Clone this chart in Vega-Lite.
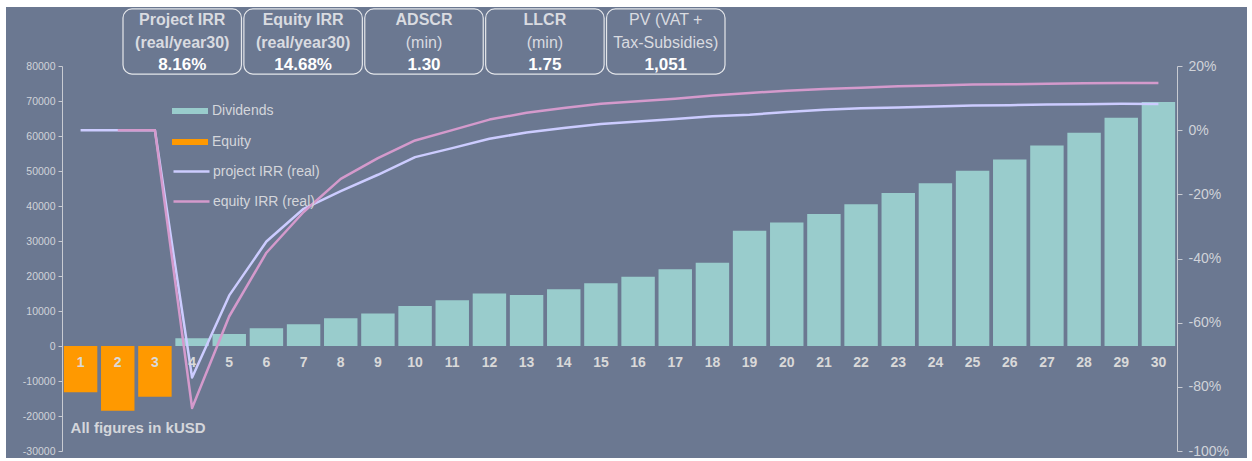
{
  "$schema": "https://vega.github.io/schema/vega-lite/v6.json",
  "width": 1241,
  "height": 451,
  "autosize": {"type": "none"},
  "padding": {"left": 6, "top": 7, "right": 5, "bottom": 3},
  "background": "white",
  "config": {
    "view": {"fill": "#6b7891", "stroke": null},
    "font": "Liberation Sans",
    "locale": {"number": {"decimal": ".", "thousands": ",", "grouping": [3], "currency": ["$", ""], "minus": "-"}},
    "axis": {"grid": false, "labelFont": "Liberation Sans", "domainColor": "#c8cbd2", "tickColor": "#c8cbd2", "labelColor": "#d0d3d9", "title": null}
  },
  "datasets": {
    "flows": [
      {"year": 1, "kusd": -13200, "series": "Equity"},
      {"year": 2, "kusd": -18500, "series": "Equity"},
      {"year": 3, "kusd": -14500, "series": "Equity"},
      {"year": 4, "kusd": 2200, "series": "Dividends"},
      {"year": 5, "kusd": 3400, "series": "Dividends"},
      {"year": 6, "kusd": 5100, "series": "Dividends"},
      {"year": 7, "kusd": 6200, "series": "Dividends"},
      {"year": 8, "kusd": 7900, "series": "Dividends"},
      {"year": 9, "kusd": 9300, "series": "Dividends"},
      {"year": 10, "kusd": 11400, "series": "Dividends"},
      {"year": 11, "kusd": 13100, "series": "Dividends"},
      {"year": 12, "kusd": 15000, "series": "Dividends"},
      {"year": 13, "kusd": 14600, "series": "Dividends"},
      {"year": 14, "kusd": 16200, "series": "Dividends"},
      {"year": 15, "kusd": 17900, "series": "Dividends"},
      {"year": 16, "kusd": 19800, "series": "Dividends"},
      {"year": 17, "kusd": 21900, "series": "Dividends"},
      {"year": 18, "kusd": 23800, "series": "Dividends"},
      {"year": 19, "kusd": 32900, "series": "Dividends"},
      {"year": 20, "kusd": 35300, "series": "Dividends"},
      {"year": 21, "kusd": 37700, "series": "Dividends"},
      {"year": 22, "kusd": 40500, "series": "Dividends"},
      {"year": 23, "kusd": 43700, "series": "Dividends"},
      {"year": 24, "kusd": 46500, "series": "Dividends"},
      {"year": 25, "kusd": 50100, "series": "Dividends"},
      {"year": 26, "kusd": 53300, "series": "Dividends"},
      {"year": 27, "kusd": 57300, "series": "Dividends"},
      {"year": 28, "kusd": 60900, "series": "Dividends"},
      {"year": 29, "kusd": 65200, "series": "Dividends"},
      {"year": 30, "kusd": 69700, "series": "Dividends"}
    ],
    "irr": [
      {"year": 1, "irr": 0, "series": "project IRR (real)"},
      {"year": 2, "irr": 0, "series": "project IRR (real)"},
      {"year": 3, "irr": 0, "series": "project IRR (real)"},
      {"year": 4, "irr": -0.771, "series": "project IRR (real)"},
      {"year": 5, "irr": -0.515, "series": "project IRR (real)"},
      {"year": 6, "irr": -0.347, "series": "project IRR (real)"},
      {"year": 7, "irr": -0.245, "series": "project IRR (real)"},
      {"year": 8, "irr": -0.19, "series": "project IRR (real)"},
      {"year": 9, "irr": -0.139, "series": "project IRR (real)"},
      {"year": 10, "irr": -0.084, "series": "project IRR (real)"},
      {"year": 11, "irr": -0.056, "series": "project IRR (real)"},
      {"year": 12, "irr": -0.027, "series": "project IRR (real)"},
      {"year": 13, "irr": -0.007, "series": "project IRR (real)"},
      {"year": 14, "irr": 0.007, "series": "project IRR (real)"},
      {"year": 15, "irr": 0.019, "series": "project IRR (real)"},
      {"year": 16, "irr": 0.027, "series": "project IRR (real)"},
      {"year": 17, "irr": 0.035, "series": "project IRR (real)"},
      {"year": 18, "irr": 0.043, "series": "project IRR (real)"},
      {"year": 19, "irr": 0.048, "series": "project IRR (real)"},
      {"year": 20, "irr": 0.057, "series": "project IRR (real)"},
      {"year": 21, "irr": 0.064, "series": "project IRR (real)"},
      {"year": 22, "irr": 0.068, "series": "project IRR (real)"},
      {"year": 23, "irr": 0.071, "series": "project IRR (real)"},
      {"year": 24, "irr": 0.074, "series": "project IRR (real)"},
      {"year": 25, "irr": 0.077, "series": "project IRR (real)"},
      {"year": 26, "irr": 0.078, "series": "project IRR (real)"},
      {"year": 27, "irr": 0.080, "series": "project IRR (real)"},
      {"year": 28, "irr": 0.081, "series": "project IRR (real)"},
      {"year": 29, "irr": 0.082, "series": "project IRR (real)"},
      {"year": 30, "irr": 0.0816, "series": "project IRR (real)"},
      {"year": 2, "irr": 0, "series": "equity IRR (real)"},
      {"year": 3, "irr": 0, "series": "equity IRR (real)"},
      {"year": 4, "irr": -0.866, "series": "equity IRR (real)"},
      {"year": 5, "irr": -0.58, "series": "equity IRR (real)"},
      {"year": 6, "irr": -0.382, "series": "equity IRR (real)"},
      {"year": 7, "irr": -0.255, "series": "equity IRR (real)"},
      {"year": 8, "irr": -0.152, "series": "equity IRR (real)"},
      {"year": 9, "irr": -0.087, "series": "equity IRR (real)"},
      {"year": 10, "irr": -0.032, "series": "equity IRR (real)"},
      {"year": 11, "irr": 0.0, "series": "equity IRR (real)"},
      {"year": 12, "irr": 0.033, "series": "equity IRR (real)"},
      {"year": 13, "irr": 0.054, "series": "equity IRR (real)"},
      {"year": 14, "irr": 0.069, "series": "equity IRR (real)"},
      {"year": 15, "irr": 0.082, "series": "equity IRR (real)"},
      {"year": 16, "irr": 0.09, "series": "equity IRR (real)"},
      {"year": 17, "irr": 0.098, "series": "equity IRR (real)"},
      {"year": 18, "irr": 0.108, "series": "equity IRR (real)"},
      {"year": 19, "irr": 0.116, "series": "equity IRR (real)"},
      {"year": 20, "irr": 0.123, "series": "equity IRR (real)"},
      {"year": 21, "irr": 0.128, "series": "equity IRR (real)"},
      {"year": 22, "irr": 0.132, "series": "equity IRR (real)"},
      {"year": 23, "irr": 0.137, "series": "equity IRR (real)"},
      {"year": 24, "irr": 0.139, "series": "equity IRR (real)"},
      {"year": 25, "irr": 0.142, "series": "equity IRR (real)"},
      {"year": 26, "irr": 0.143, "series": "equity IRR (real)"},
      {"year": 27, "irr": 0.145, "series": "equity IRR (real)"},
      {"year": 28, "irr": 0.146, "series": "equity IRR (real)"},
      {"year": 29, "irr": 0.147, "series": "equity IRR (real)"},
      {"year": 30, "irr": 0.1468, "series": "equity IRR (real)"}
    ],
    "kpis": [
      {"title": "Project IRR", "sub": "(real/year30)", "value": "8.16%"},
      {"title": "Equity IRR", "sub": "(real/year30)", "value": "14.68%"},
      {"title": "ADSCR", "sub": "(min)", "value": "1.30"},
      {"title": "LLCR", "sub": "(min)", "value": "1.75"},
      {"title": "PV (VAT +", "sub": "Tax-Subsidies)", "value": "1,051"}
    ]
  },
  "layer": [
    {
      "data": {"name": "flows"},
      "layer": [
        {
          "mark": {"type": "bar"},
          "encoding": {
            "x": {
              "field": "year", "type": "ordinal",
              "scale": {"type": "band", "range": [56, 1171], "paddingInner": 0.1, "paddingOuter": 0.05},
              "axis": {"orient": "bottom", "offset": -112, "domain": false, "ticks": false, "tickSize": 0, "labelPadding": 9, "labelFontSize": 14, "labelFontWeight": "bold", "labelColor": "#d9d9d9", "labelAngle": 0, "zindex": 1}
            },
            "y": {
              "field": "kusd", "type": "quantitative",
              "scale": {"domain": [-30000, 80000], "range": [444, 59], "nice": false, "zero": false},
              "axis": {"orient": "left", "offset": -56, "values": [-30000, -20000, -10000, 0, 10000, 20000, 30000, 40000, 50000, 60000, 70000, 80000], "format": "d", "tickSize": 4, "labelPadding": 3, "labelFontSize": 10.5}
            },
            "fill": {
              "field": "series", "type": "nominal",
              "scale": {"domain": ["Dividends", "Equity"], "range": ["#99cccc", "#ff9900"]},
              "legend": {"orient": "none", "legendX": 175, "legendY": 95, "title": null, "padding": 0, "symbolType": "M-2,-0.34L2,-0.34L2,0.34L-2,0.34Z", "symbolSize": 324, "symbolStrokeWidth": 0, "symbolOpacity": 1, "labelOffset": 13, "rowPadding": 15, "labelFontSize": 14, "labelColor": "#d4d6db", "labelFont": "Liberation Sans"}
            }
          }
        },
        {
          "data": {"values": [{"note": "All figures in kUSD"}]},
          "mark": {"type": "text", "align": "left", "baseline": "middle", "fontSize": 15, "fontWeight": "bold", "color": "#d4d6db"},
          "encoding": {
            "x": {"datum": 1, "type": "ordinal", "bandPosition": 0.2},
            "y": {"datum": -23400, "type": "quantitative"},
            "text": {"field": "note"}
          }
        }
      ]
    },
    {
      "data": {"name": "irr"},
      "mark": {"type": "line", "strokeWidth": 2.5, "strokeJoin": "round"},
      "encoding": {
        "x": {
          "field": "year", "type": "ordinal",
          "scale": {"type": "band", "range": [56, 1171], "paddingInner": 0.1, "paddingOuter": 0.05},
          "axis": null
        },
        "y": {
          "field": "irr", "type": "quantitative",
          "scale": {"domain": [-1, 0.2], "range": [444, 59], "nice": false, "zero": false},
          "axis": {"orient": "right", "offset": -70, "values": [-1, -0.8, -0.6, -0.4, -0.2, 0, 0.2], "format": ".0%", "tickSize": 5, "labelPadding": 6, "labelFontSize": 14}
        },
        "stroke": {
          "field": "series", "type": "nominal",
          "scale": {"domain": ["project IRR (real)", "equity IRR (real)"], "range": ["#ccccff", "#d49acc"]},
          "legend": {"orient": "none", "legendX": 175, "legendY": 154, "title": null, "padding": 0, "symbolType": "M-2,0L2,0", "symbolSize": 324, "symbolStrokeWidth": 2.5, "labelOffset": 11, "rowPadding": 12, "labelFontSize": 14, "labelColor": "#d4d6db", "labelFont": "Liberation Sans"}
        }
      }
    },
    {
      "data": {"name": "kpis"},
      "layer": [
        {
          "mark": {"type": "rect", "cornerRadius": 9, "fillOpacity": 0, "stroke": "#e4e6ea", "strokeWidth": 1.2},
          "encoding": {
            "x": {"field": "title", "type": "nominal", "sort": null, "scale": {"type": "band", "range": [117, 719], "paddingInner": 0.02, "paddingOuter": 0}, "axis": null},
            "y": {"datum": 96300, "type": "quantitative", "scale": {"domain": [-30000, 80000], "range": [444, 59], "nice": false, "zero": false}, "axis": null},
            "y2": {"datum": 77700}
          }
        },
        {
          "transform": [{"filter": "datum.title != 'PV (VAT +'"}],
          "mark": {"type": "text", "fontSize": 16, "fontWeight": "bold", "color": "#d9dbe0", "baseline": "middle"},
          "encoding": {
            "x": {"field": "title", "type": "nominal", "sort": null},
            "y": {"datum": 93150, "type": "quantitative"},
            "text": {"field": "title"}
          }
        },
        {
          "transform": [{"filter": "datum.title == 'PV (VAT +'"}],
          "mark": {"type": "text", "fontSize": 16, "color": "#d9dbe0", "baseline": "middle"},
          "encoding": {
            "x": {"field": "title", "type": "nominal", "sort": null},
            "y": {"datum": 93150, "type": "quantitative"},
            "text": {"field": "title"}
          }
        },
        {
          "transform": [{"filter": "indexof(datum.sub, 'real') >= 0"}],
          "mark": {"type": "text", "fontSize": 16, "fontWeight": "bold", "color": "#d9dbe0", "baseline": "middle"},
          "encoding": {
            "x": {"field": "title", "type": "nominal", "sort": null},
            "y": {"datum": 86580, "type": "quantitative"},
            "text": {"field": "sub"}
          }
        },
        {
          "transform": [{"filter": "indexof(datum.sub, 'real') < 0"}],
          "mark": {"type": "text", "fontSize": 16, "color": "#d9dbe0", "baseline": "middle"},
          "encoding": {
            "x": {"field": "title", "type": "nominal", "sort": null},
            "y": {"datum": 86580, "type": "quantitative"},
            "text": {"field": "sub"}
          }
        },
        {
          "mark": {"type": "text", "fontSize": 17, "fontWeight": "bold", "color": "#ffffff", "baseline": "middle"},
          "encoding": {
            "x": {"field": "title", "type": "nominal", "sort": null},
            "y": {"datum": 80290, "type": "quantitative"},
            "text": {"field": "value"}
          }
        }
      ]
    }
  ],
  "resolve": {"scale": {"x": "independent", "y": "independent"}}
}
